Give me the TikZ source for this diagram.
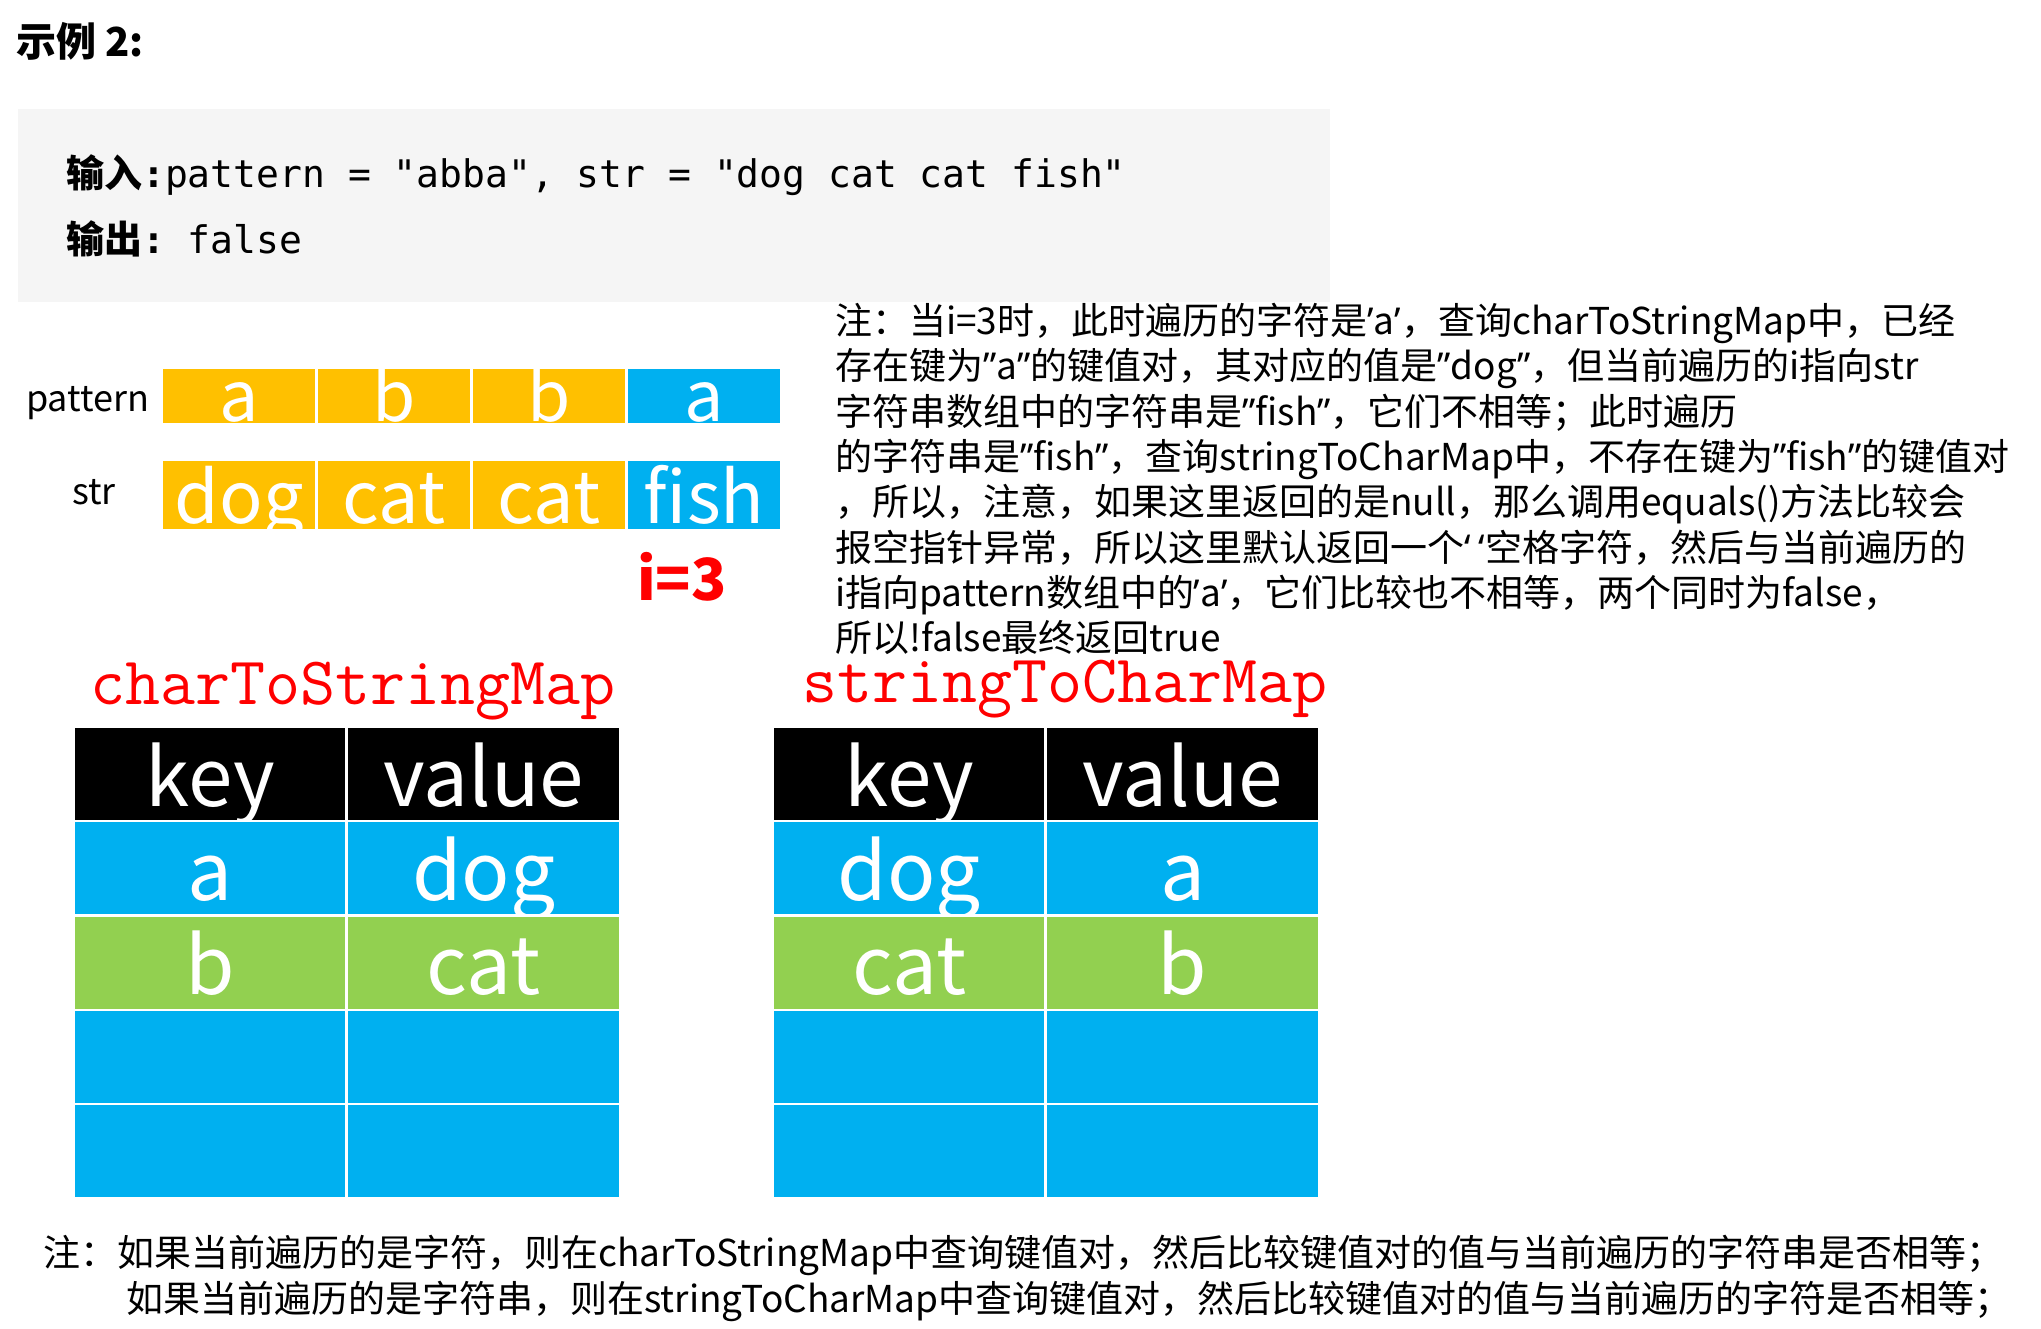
\documentclass[tikz,border=0pt]{standalone}
\usepackage{fontspec}
\setmainfont{Noto Sans CJK SC}
\setmonofont{DejaVu Sans Mono}
\newfontfamily\latin{Noto Sans}
\newfontfamily\courier{Latin Modern Mono}
\definecolor{cellorange}{HTML}{FFC000}
\definecolor{cellblue}{HTML}{00B0F0}
\definecolor{cellgreen}{HTML}{92D050}
\definecolor{codegray}{HTML}{F5F5F5}
\newcommand{\rsq}{{\latin ’}}
\newcommand{\lsq}{{\latin ‘}}
\newcommand{\rdq}{{\latin ”}}
\begin{document}
\begin{tikzpicture}[x=1pt,y=-1pt,
	patcell/.style={fill=#1, anchor=north west, inner sep=0pt, minimum width=152pt, minimum height=54pt, text=white, text height=50pt, text depth=0pt, font=\fontsize{70}{70}\selectfont},
	strcell/.style={fill=#1, anchor=north west, inner sep=0pt, minimum width=152pt, minimum height=68pt, text=white, text height=60pt, text depth=4pt, font=\fontsize{72}{72}\selectfont},
	mapcell/.style={fill=#1, anchor=north west, inner sep=0pt, minimum height=92pt, text=white, text height=70pt, text depth=6pt, font=\fontsize{80}{80}\selectfont},
	note/.style={anchor=base west, inner sep=0pt, font=\fontsize{37}{45}\selectfont},
	maptitle/.style={anchor=base west, inner sep=0pt, text=red, font=\courier\fontsize{68}{70}\selectfont}]
	\useasboundingbox (0,0) rectangle (2041,1328);

	\node[anchor=base west, inner sep=0pt, font=\fontsize{40}{44}\selectfont\bfseries] (title) at (16,56) {示例 2:};

	\node[fill=codegray, anchor=north west, minimum width=1312pt, minimum height=193pt] (codebox) at (18,109) {};
	\node[anchor=base west, inner sep=0pt, font=\fontsize{38}{40}\selectfont] (input) at (66,187) {{\bfseries 输入}{\ttfamily\bfseries :}\ttfamily pattern = "abba", str = "dog cat cat fish"};
	\node[anchor=base west, inner sep=0pt, font=\fontsize{38}{40}\selectfont] (output) at (66,253) {{\bfseries 输出}{\ttfamily\bfseries :}\ttfamily{} false};

	\node[note] (n1) at (835,334.5) {注：当i=3时，此时遍历的字符是\rsq a\rsq，查询charToStringMap中，已经};
	\node[note] (n2) at (835,379.8) {存在键为\rdq a\rdq 的键值对，其对应的值是\rdq dog\rdq，但当前遍历的i指向str};
	\node[note] (n3) at (835,425.1) {字符串数组中的字符串是\rdq fish\rdq，它们不相等；此时遍历};
	\node[note] (n4) at (835,470.4) {的字符串是\rdq fish\rdq，查询stringToCharMap中，不存在键为\rdq fish\rdq 的键值对};
	\node[note] (n5) at (835,515.7) {，所以，注意，如果这里返回的是null，那么调用equals()方法比较会};
	\node[note] (n6) at (835,561.0) {报空指针异常，所以这里默认返回一个\lsq{} \lsq 空格字符，然后与当前遍历的};
	\node[note] (n7) at (835,606.3) {i指向pattern数组中的\rsq a\rsq，它们比较也不相等，两个同时为false，};
	\node[note] (n8) at (835,651.6) {所以!false最终返回true};

	\node[note, font=\fontsize{36}{40}\selectfont] (patlabel) at (26,411) {pattern};
	\node[note, font=\fontsize{36}{40}\selectfont] (strlabel) at (72,504) {str};
	\foreach \c/\p/\s [count=\i from 0] in {cellorange/a/dog, cellorange/b/cat, cellorange/b/cat, cellblue/a/fish}{
		\node[patcell=\c] (p\i) at (163+155*\i,369) {\p};
		\node[strcell=\c] (s\i) at (163+155*\i,461) {\s};
	}
	\node[anchor=base west, inner sep=0pt, text=red, font=\fontsize{58}{58}\selectfont\bfseries] (index) at (637,600) {i=3};

	\node[maptitle] (ctsmap) at (90,704) {charToStringMap};
	\node[maptitle] (stcmap) at (802,702) {stringToCharMap};
	\foreach \c/\k/\v [count=\r from 0] in {black/key/value, cellblue/a/dog, cellgreen/b/cat, cellblue/{}/{}, cellblue/{}/{}}{
		\node[mapcell=\c, minimum width=270pt] (ck\r) at (75,728+94.2*\r) {\k};
		\node[mapcell=\c, minimum width=271pt] (cv\r) at (348,728+94.2*\r) {\v};
	}
	\foreach \c/\k/\v [count=\r from 0] in {black/key/value, cellblue/dog/a, cellgreen/cat/b, cellblue/{}/{}, cellblue/{}/{}}{
		\node[mapcell=\c, minimum width=270pt] (sk\r) at (774,728+94.2*\r) {\k};
		\node[mapcell=\c, minimum width=271pt] (sv\r) at (1047,728+94.2*\r) {\v};
	}

	\node[note] (b1) at (43,1266.5) {注：如果当前遍历的是字符，则在charToStringMap中查询键值对，然后比较键值对的值与当前遍历的字符串是否相等；};
	\node[note] (b2) at (126,1312.5) {如果当前遍历的是字符串，则在stringToCharMap中查询键值对，然后比较键值对的值与当前遍历的字符是否相等；};
\end{tikzpicture}
\end{document}
